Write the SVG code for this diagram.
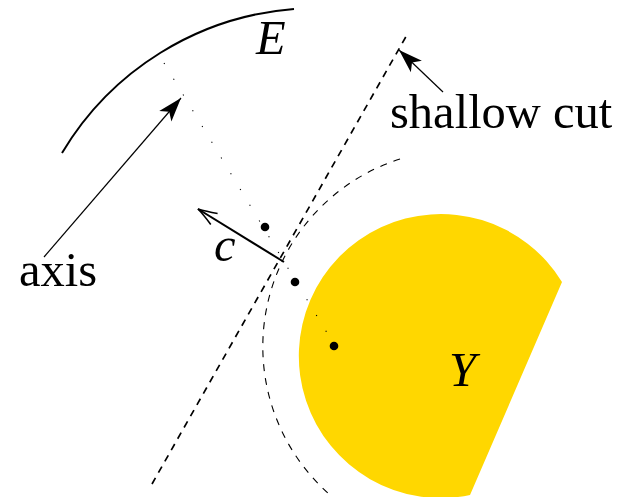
<svg xmlns="http://www.w3.org/2000/svg" width="623" height="497" viewBox="0 0 623 497">
<style>
text{font-family:"Liberation Serif","Times New Roman",serif;font-size:48.5px;fill:#000}
.it{font-style:italic}
.thin{stroke:#000;stroke-width:1.2;fill:none}
</style>
<defs>
<marker id="fa" markerUnits="userSpaceOnUse" markerWidth="28" markerHeight="20" refX="25" refY="10" orient="auto">
<path d="M1,2 L25,10 L1,18 L7,10 z" fill="#000"/>
</marker>
<marker id="oa" markerUnits="userSpaceOnUse" markerWidth="26" markerHeight="18" refX="22" refY="9" orient="auto">
<path d="M3,2.5 Q14,7 22,9 Q14,11 3,15.5" fill="none" stroke="#000" stroke-width="1.6"/>
</marker>
</defs>
<rect width="623" height="497" fill="#fff"/>
<g id="Y">
<path d="M562,282 A142,142 0 1,0 470,495 Z" fill="#FFD700"/>
<text class="it" x="449" y="386">Y</text>
</g>
<g id="E">
<path d="M62,153 A297,297 0 0,1 294,9" fill="none" stroke="#000" stroke-width="2"/>
<text class="it" x="256" y="54">E</text>
</g>
<g id="cuts">
<line x1="152" y1="484" x2="408" y2="33" stroke="#000" stroke-width="1.7" stroke-dasharray="7 6"/>
<path d="M400,159 A197,197 0 0,0 329,494" fill="none" stroke="#000" stroke-width="1.1" stroke-dasharray="7 7"/>
</g>
<g id="centers">
<line x1="164" y1="63" x2="335" y2="346" stroke="#000" stroke-width="1.1" stroke-dasharray="1.2 17.2"/>
<circle cx="265" cy="227" r="4.3" fill="#000"/>
<circle cx="295" cy="282" r="4.3" fill="#000"/>
<circle cx="334" cy="346" r="4.3" fill="#000"/>
</g>
<g id="connectors">
<line class="thin" x1="44" y1="257" x2="181" y2="98" marker-end="url(#fa)"/>
<line class="thin" x1="443" y1="92" x2="399" y2="50" marker-end="url(#fa)"/>
<line x1="284" y1="262" x2="198" y2="209" stroke="#000" stroke-width="2" marker-end="url(#oa)"/>
</g>
<g id="labels">
<text x="19" y="286">axis</text>
<text x="390" y="128">shallow cut</text>
<text class="it" x="214" y="261">c</text>
</g>
</svg>
